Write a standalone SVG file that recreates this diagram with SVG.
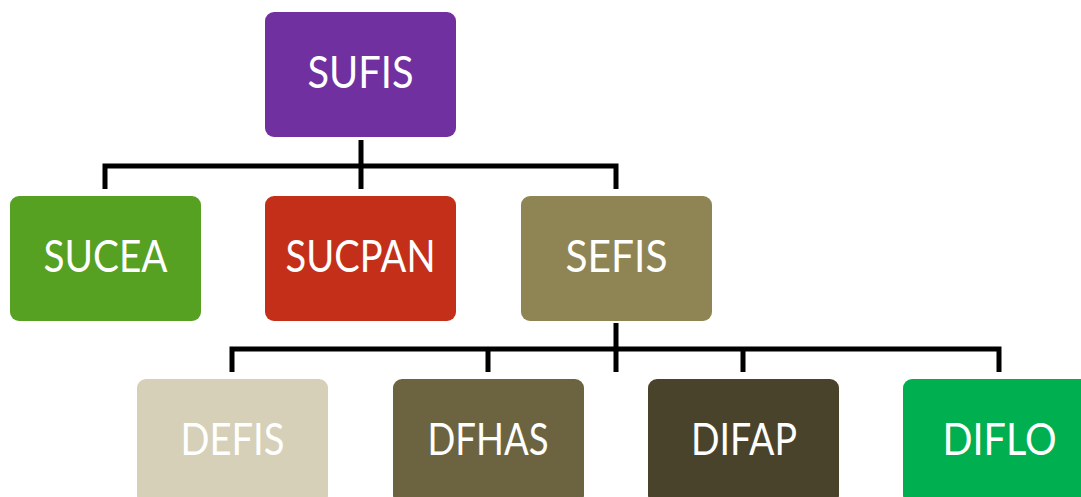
<svg xmlns="http://www.w3.org/2000/svg" width="1081" height="497" viewBox="0 0 1081 497">
<style>
.box{stroke:none}
.lbl{font-family:Lato,"Open Sans",sans-serif;font-size:45px;fill:#ffffff;text-anchor:middle}
.conn{fill:none;stroke:#000;stroke-width:5;stroke-linejoin:miter}
</style>
<rect width="1081" height="497" fill="#ffffff"/>
<g id="connectors">
<path class="conn" d="M361,140 V189 M105,189 V166 H616 V189"/>
<path class="conn" d="M616,323 V372 M232,372 V349 H999 V372 M488,349 V372 M743,349 V372"/>
</g>
<g id="SUFIS"><rect class="box" x="265" y="12" width="191" height="125" rx="9" fill="#7030A0"/><text class="lbl" x="360.5" y="88" textLength="106" lengthAdjust="spacingAndGlyphs">SUFIS</text></g>
<g id="SUCEA"><rect class="box" x="10" y="196" width="191" height="125" rx="9" fill="#56A022"/><text class="lbl" x="105.5" y="272" textLength="124" lengthAdjust="spacingAndGlyphs">SUCEA</text></g>
<g id="SUCPAN"><rect class="box" x="265" y="196" width="191" height="125" rx="9" fill="#C42F1A"/><text class="lbl" x="360.5" y="272" textLength="150" lengthAdjust="spacingAndGlyphs">SUCPAN</text></g>
<g id="SEFIS"><rect class="box" x="521" y="196" width="191" height="125" rx="9" fill="#8F8554"/><text class="lbl" x="616.5" y="272" textLength="102" lengthAdjust="spacingAndGlyphs">SEFIS</text></g>
<g id="DEFIS"><rect class="box" x="137" y="379" width="191" height="125" rx="9" fill="#D6D0B8"/><text class="lbl" x="232.5" y="455" textLength="104" lengthAdjust="spacingAndGlyphs">DEFIS</text></g>
<g id="DFHAS"><rect class="box" x="393" y="379" width="191" height="125" rx="9" fill="#6C6440"/><text class="lbl" x="488" y="455" textLength="121" lengthAdjust="spacingAndGlyphs">DFHAS</text></g>
<g id="DIFAP"><rect class="box" x="648" y="379" width="191" height="125" rx="9" fill="#4A432C"/><text class="lbl" x="744" y="455" textLength="106" lengthAdjust="spacingAndGlyphs">DIFAP</text></g>
<g id="DIFLO"><rect class="box" x="903" y="379" width="191" height="125" rx="9" fill="#00AF50"/><text class="lbl" x="999.5" y="455" textLength="114" lengthAdjust="spacingAndGlyphs">DIFLO</text></g>
</svg>
